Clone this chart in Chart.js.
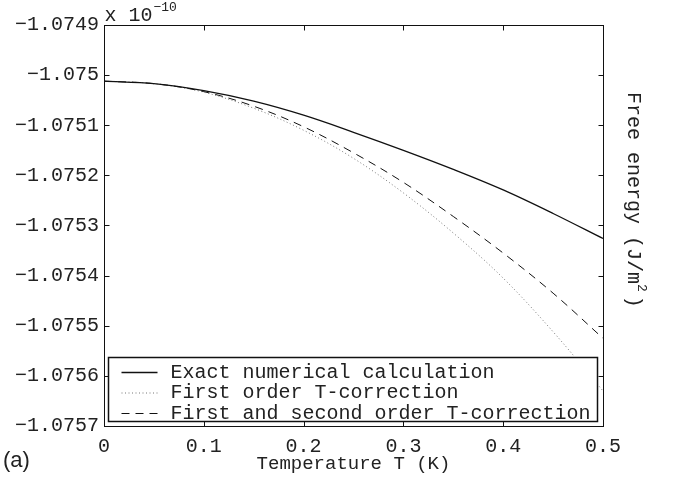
<!DOCTYPE html>
<html>
<head>
<meta charset="utf-8">
<script src="https://cdn.jsdelivr.net/npm/chart.js@4/dist/chart.umd.min.js"></script>
<style>
  html, body { margin: 0; padding: 0; background: #fff; }
  canvas { display: block; }
</style>
</head>
<body>
<canvas id="energy-chart" width="680" height="478"></canvas>
<script>
// temperature in K, free energy in units of 1e-10 J/m^2
const temps = [0, 0.05, 0.1, 0.15, 0.2, 0.25, 0.3, 0.35, 0.4, 0.45, 0.5];
const exactVals = [-1.075012, -1.075017, -1.075031, -1.075052, -1.07508, -1.075114, -1.07515, -1.075188, -1.075229, -1.075276, -1.075326];
const firstOrderVals = [-1.075012, -1.075017, -1.075034, -1.075066, -1.07511, -1.075166, -1.075235, -1.075315, -1.075405, -1.075512, -1.07563];
const secondOrderVals = [-1.075012, -1.075017, -1.075033, -1.075062, -1.075103, -1.075155, -1.075214, -1.075282, -1.075355, -1.075435, -1.075525];
const seriesNames = ["Exact numerical calculation", "First order T-correction", "First and second order T-correction"];
const xTicks = [0, 0.1, 0.2, 0.3, 0.4, 0.5];
const yTicks = [-1.0757, -1.0756, -1.0755, -1.0754, -1.0753, -1.0752, -1.0751, -1.075, -1.0749];

const MONO = "'Liberation Mono', 'DejaVu Sans Mono', monospace";
const INK = "#222";

function toPoints(vals) {
  return vals.map((v, i) => ({ x: temps[i], y: v }));
}

function fmtY(v) {
  return parseFloat(v.toFixed(4)).toString().replace("-", "\u2212");
}

// inner ticks, box frame, legend box and loose labels
const framePlugin = {
  id: "frame",
  afterDatasetsDraw(chart) {
    const ctx = chart.ctx;
    const a = chart.chartArea;
    const xs = chart.scales.x, ys = chart.scales.y;
    const L = Math.round(a.left) + 0.5, R = Math.round(a.right) + 0.5;
    const T = Math.round(a.top) + 0.5, B = Math.round(a.bottom) + 0.5;
    ctx.save();
    ctx.strokeStyle = "#111";
    ctx.lineWidth = 1;
    ctx.setLineDash([]);
    ctx.strokeRect(L, T, R - L, B - T);
    const tl = 5;
    ctx.beginPath();
    xTicks.forEach((t) => {
      const px = Math.round(xs.getPixelForValue(t)) + 0.5;
      ctx.moveTo(px, B); ctx.lineTo(px, B - tl);
      ctx.moveTo(px, T); ctx.lineTo(px, T + tl);
    });
    yTicks.forEach((t) => {
      const py = Math.round(ys.getPixelForValue(t)) + 0.5;
      ctx.moveTo(L, py); ctx.lineTo(L + tl, py);
      ctx.moveTo(R, py); ctx.lineTo(R - tl, py);
    });
    ctx.stroke();

    // legend box
    const bx = L + 4, bw = R - L - 10, bh = 64, by = B - 5 - bh;
    ctx.fillStyle = "#fff";
    ctx.fillRect(bx, by, bw, bh);
    ctx.lineWidth = 1.5;
    ctx.strokeStyle = "#111";
    ctx.strokeRect(bx, by, bw, bh);
    ctx.font = "20px " + MONO;
    ctx.textBaseline = "middle";
    ctx.textAlign = "left";
    chart.data.datasets.forEach((ds, i) => {
      const cy = by + 15 + i * 20.5;
      ctx.beginPath();
      ctx.strokeStyle = ds.borderColor;
      ctx.lineWidth = ds.borderWidth;
      ctx.setLineDash(ds.borderDash || []);
      ctx.moveTo(bx + 13, cy);
      ctx.lineTo(bx + 49, cy);
      ctx.stroke();
      ctx.setLineDash([]);
      ctx.fillStyle = INK;
      ctx.fillText(ds.label, bx + 62, cy);
    });

    // exponent label
    ctx.fillStyle = INK;
    ctx.textBaseline = "alphabetic";
    ctx.font = "20px " + MONO;
    ctx.fillText("x 10", L, 21);
    ctx.font = "13px " + MONO;
    ctx.fillText("\u221210", L + 49, 11);

    // right axis title, rotated clockwise
    ctx.save();
    ctx.translate(633, 200);
    ctx.rotate(Math.PI / 2);
    ctx.font = "20px " + MONO;
    const main = "Free energy (J/m";
    const full = ctx.measureText(main + "2)").width;
    let x0 = -full / 2;
    ctx.textBaseline = "middle";
    ctx.fillText(main, x0, 0);
    x0 += ctx.measureText(main).width;
    ctx.font = "13px " + MONO;
    ctx.fillText("2", x0, -8);
    x0 += ctx.measureText("2").width + 4;
    ctx.font = "20px " + MONO;
    ctx.fillText(")", x0, 0);
    ctx.restore();

    // panel label
    ctx.font = "22px 'Liberation Sans', Arial, sans-serif";
    ctx.textBaseline = "middle";
    ctx.fillText("(a)", 3, 461);
    ctx.restore();
  },
};

var ctx = document.getElementById("energy-chart").getContext("2d");
var energyChart = new Chart(ctx, {
  type: "line",
  data: {
    datasets: [
      {
        label: seriesNames[0],
        data: toPoints(exactVals),
        borderColor: "#111",
        borderWidth: 1.3,
        pointRadius: 0,
        fill: false,
        tension: 0.35,
      },
      {
        label: seriesNames[1],
        data: toPoints(firstOrderVals),
        borderColor: "#777",
        borderWidth: 1,
        borderDash: [1, 2.5],
        pointRadius: 0,
        fill: false,
        tension: 0.35,
      },
      {
        label: seriesNames[2],
        data: toPoints(secondOrderVals),
        borderColor: "#111",
        borderWidth: 1,
        borderDash: [8, 6],
        pointRadius: 0,
        fill: false,
        tension: 0.35,
      },
    ],
  },
  options: {
    responsive: false,
    animation: false,
    layout: { padding: { left: 0, right: 77, top: 25, bottom: 0 } },
    plugins: {
      legend: { display: false },
      tooltip: { enabled: false },
    },
    scales: {
      x: {
        type: "linear",
        min: 0,
        max: 0.5,
        afterFit: (s) => { s.height = 52; },
        afterBuildTicks: (s) => { s.ticks = xTicks.map((v) => ({ value: v })); },
        grid: { drawOnChartArea: false, drawTicks: false },
        border: { display: false },
        ticks: {
          color: INK,
          padding: 9,
          maxRotation: 0,
          font: { family: MONO, size: 20 },
          callback: (v) => parseFloat(v.toFixed(1)).toString(),
        },
        title: {
          display: true,
          text: "Temperature T (K)",
          color: INK,
          font: { family: MONO, size: 19 },
          padding: { top: 0, bottom: 3 },
        },
      },
      y: {
        type: "linear",
        min: -1.0757,
        max: -1.0749,
        afterFit: (s) => { s.width = 104; },
        afterBuildTicks: (s) => { s.ticks = yTicks.map((v) => ({ value: v })); },
        grid: { drawOnChartArea: false, drawTicks: false },
        border: { display: false },
        ticks: {
          color: INK,
          padding: 5,
          font: { family: MONO, size: 20 },
          callback: (v) => fmtY(v),
        },
      },
    },
  },
  plugins: [framePlugin],
});
</script>
</body>
</html>
